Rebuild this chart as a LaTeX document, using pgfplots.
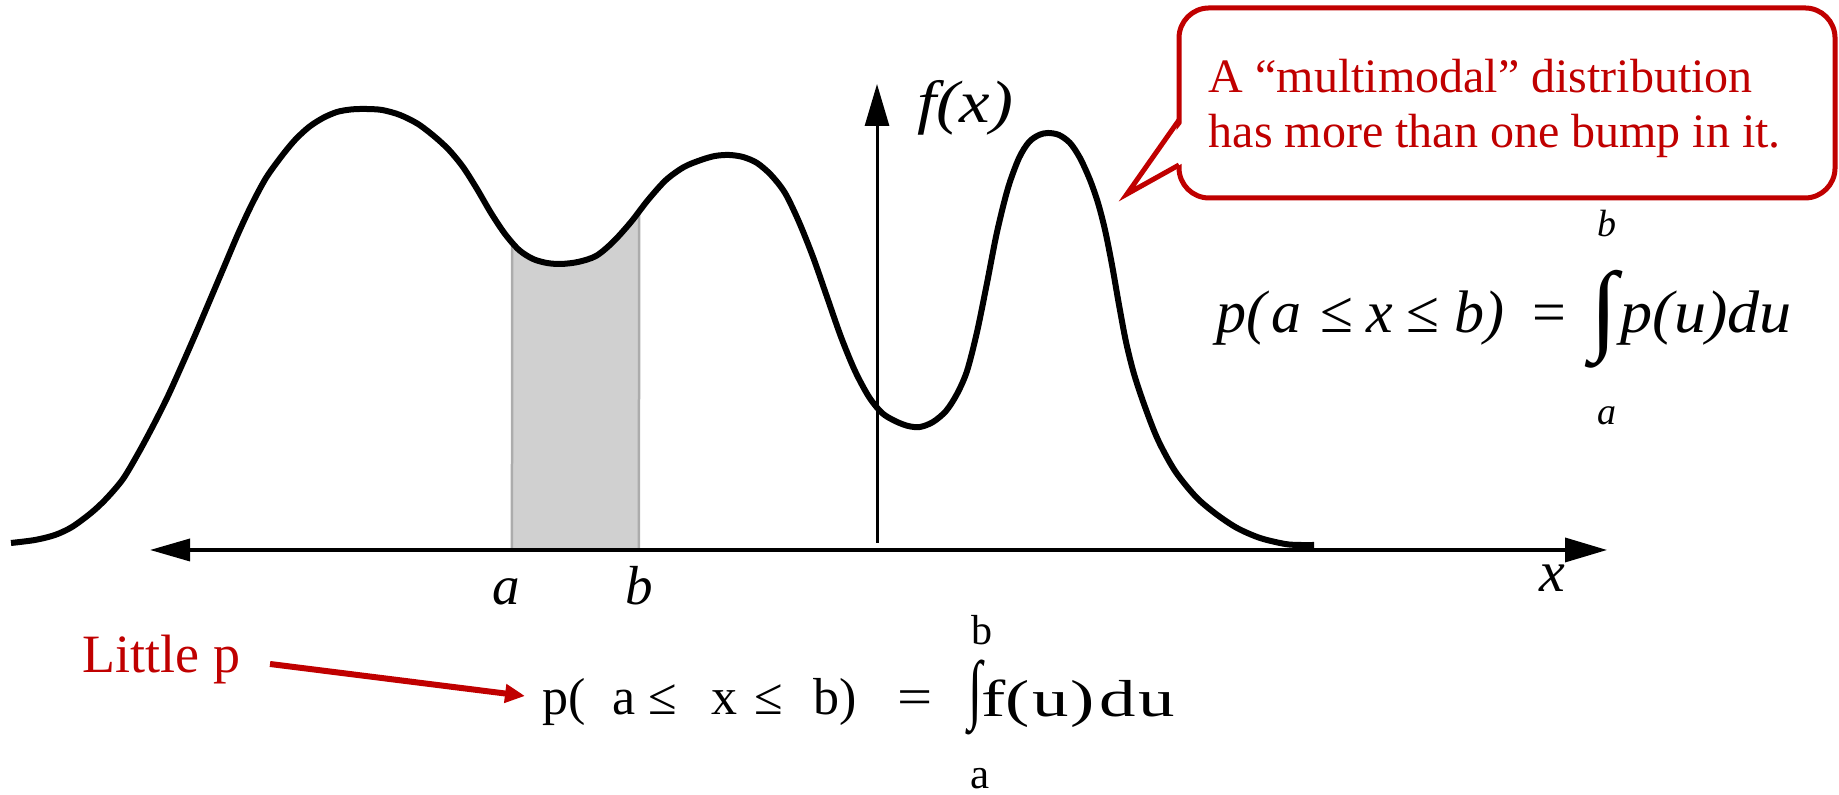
\documentclass[border=0pt]{standalone}
\usepackage{fontspec}
\setmainfont{Liberation Serif}
\usepackage{graphicx}
\usepackage{pgfplots}
\usepackage{pgfplotstable}
\pgfplotsset{compat=1.18}
\usepgfplotslibrary{fillbetween}
\usetikzlibrary{arrows.meta}

\definecolor{calloutred}{RGB}{192,0,0}
\definecolor{areagray}{RGB}{208,208,208}
\newcommand{\fs}[1]{\fontsize{#1pt}{#1pt}\selectfont}

% a multimodal density f(x), sampled along the curve
\pgfplotstableread{
x y
-866 6
-842 9
-822 14
-805 22
-786 36
-771 50
-754 70
-738 97
-723 125
-709 153
-695 184
-681 216
-667 249
-653 282
-639 315
-625 345
-611 371
-596 392
-582 409
-568 422
-554 431
-540 437
-526 439.5
-512 440
-495 439
-477 434
-459 425
-442 412
-428 399
-414 382
-400 360
-386 336
-372 315
-358 299
-344 290
-330 286
-316 285
-299 287
-281 293
-264 307
-246 327
-229 349
-211 369
-193 382
-176 389
-162 393
-148 394
-134 392
-120 386
-106 374
-92 356
-78 327
-64 292
-50 252
-36 212
-22 178
-8 152
5 136
18 128
31 123
43 122
56 127
69 138
80 155
90 178
100 217
110 266
120 317
131 361
142 391
152 407
162 414
171 416
182 414
193 406
203 391
213 369
221 346
228 319
235 284
242 244
249 207
257 175
268 142
281 109
298 78
319 52
339 35
360 21
383 11
408 5
423 4
437 4
}\density

\begin{document}
\begin{tikzpicture}
\begin{axis}[
  at={(0,0)}, anchor=south west,
  scale only axis, width=183.9mm, height=79.5mm,
  xmin=-877, xmax=962, ymin=-246, ymax=549,
  hide axis, clip=false]

% area between a and b
\addplot[draw=none, name path=base] coordinates {(-727,-1) (730,-1)};
\addplot[draw=none, smooth, name path=dens] table[x=x, y=y] {\density};
\addplot[fill=areagray, draw=gray!65, line width=0.25mm]
  fill between[of=dens and base, soft clip={domain=-365:-238}];

% the density curve
\addplot[black, line width=0.6mm, smooth] table[x=x, y=y] {\density};

% axes
\draw[line width=0.35mm,
  {Triangle[length=4mm,width=2.2mm]}-{Triangle[length=4.2mm,width=2.4mm]}]
  (axis cs:-727,-1) -- (axis cs:730,-1);
\draw[line width=0.3mm, -{Triangle[length=4.2mm,width=2.4mm]}]
  (axis cs:0,6) -- (axis cs:0,465);

\node[anchor=base west, inner sep=0, font=\fs{17}] at (axis cs:40,426)
  {\scalebox{1.15}[1]{\itshape f(x)}};
\node[anchor=base, inner sep=0, font=\fs{15.65}] at (axis cs:-370.5,-56) {\itshape a};
\node[anchor=base, inner sep=0, font=\fs{15.65}] at (axis cs:-237.5,-56) {\itshape b};
\node[anchor=base, inner sep=0, font=\fs{16.5}] at (axis cs:675,-43) {\itshape x};

% callout
\draw[calloutred, line width=0.5mm, fill=white, rounded corners=3mm]
  (axis cs:302,351) rectangle (axis cs:958,541);
\fill[white] (axis cs:306,427) -- (axis cs:250,355) -- (axis cs:306,386) -- cycle;
\draw[calloutred, line width=0.5mm, line join=miter]
  (axis cs:302,429) -- (axis cs:250,355) -- (axis cs:302,384);
\node[anchor=base west, inner sep=0, text=calloutred, font=\fs{13.66}]
  at (axis cs:331,456) {A “multimodal” distribution};
\node[anchor=base west, inner sep=0, text=calloutred, font=\fs{13.66}]
  at (axis cs:331,401) {has more than one bump in it.};

% right formula
\node[anchor=base west, inner sep=0, font=\fs{17.07}] at (axis cs:339,216)
  {\itshape p(\hspace{0.5mm}a\hspace{1.9mm}\textup{≤}\hspace{1.3mm}x\hspace{1.3mm}\textup{≤}\hspace{1.5mm}b)};
\node[anchor=base west, inner sep=0, font=\fs{17.07}] at (axis cs:655,216) {=};
\node[inner sep=0, font=\fs{17.07}] at (axis cs:727,230) {\resizebox*{!}{9.8mm}{∫}};
\node[anchor=base west, inner sep=0, font=\fs{17.07}] at (axis cs:743,216)
  {\scalebox{1.07}[1]{\itshape p(u)du}};
\node[anchor=base, inner sep=0, font=\fs{10.8}] at (axis cs:730,312) {\itshape b};
\node[anchor=base, inner sep=0, font=\fs{10.8}] at (axis cs:730,124) {\itshape a};

% bottom formula
\node[anchor=base west, inner sep=0, text=calloutred, font=\fs{15.36}]
  at (axis cs:-795,-124) {Little p};
\draw[calloutred, line width=0.6mm, -{Triangle[length=2mm,width=1.8mm]}]
  (axis cs:-607,-115) -- (axis cs:-352,-147);
\node[anchor=base west, inner sep=0, font=\fs{14.8}] at (axis cs:-335.3,-166)
  {p(\hspace{2.67mm}a\hspace{1.3mm}≤\hspace{3.4mm}x\hspace{1.7mm}≤\hspace{3.05mm}b)};
\node[anchor=base west, inner sep=0, font=\fs{14.8}] at (axis cs:20,-166)
  {\scalebox{1.2}[1]{=}};
\node[inner sep=0, font=\fs{14.8}] at (axis cs:98,-148.5) {\resizebox*{1.4mm}{7.5mm}{∫}};
\node[anchor=base west, inner sep=0, font=\fs{14.8}] at (axis cs:104,-168)
  {\scalebox{1.4}[1]{f(\hspace{0.2mm}u\hspace{0.1mm})\hspace{0.3mm}d\hspace{0.2mm}u}};
\node[anchor=base, inner sep=0, font=\fs{11.95}] at (axis cs:105,-96) {b};
\node[anchor=base, inner sep=0, font=\fs{12.23}] at (axis cs:103,-240) {a};
\end{axis}
\pgfresetboundingbox
\useasboundingbox (0,0) rectangle (183.9mm,79.5mm);
\end{tikzpicture}
\end{document}
